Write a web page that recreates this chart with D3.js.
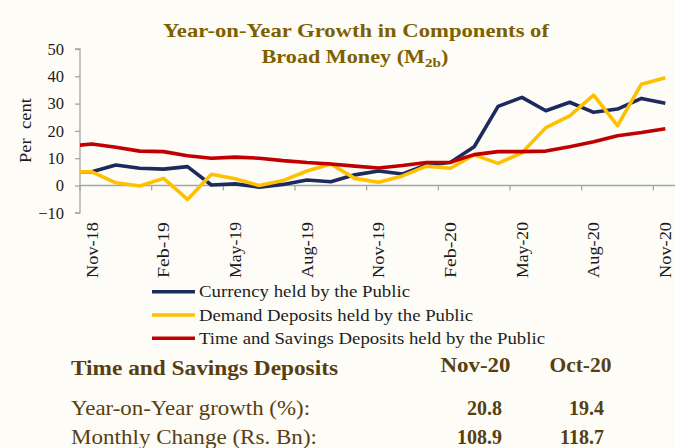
<!DOCTYPE html>
<html>
<head>
<meta charset="utf-8">
<script src="https://cdn.jsdelivr.net/npm/d3@7"></script>
<style>
html,body{margin:0;padding:0;background:#fdfcf7;}
svg{display:block;}
text{font-family:"Liberation Serif","Times New Roman",serif;}
</style>
</head>
<body>
<svg id="chart" width="675" height="448"></svg>
<script>
// ---- data ----
// first month (Oct-18) lies left of the plot area and is clipped (line enters from the axis)
const months = ["Oct-18","Nov-18","Dec-18","Jan-19","Feb-19","Mar-19","Apr-19","May-19","Jun-19","Jul-19","Aug-19","Sep-19","Oct-19","Nov-19","Dec-19","Jan-20","Feb-20","Mar-20","Apr-20","May-20","Jun-20","Jul-20","Aug-20","Sep-20","Oct-20","Nov-20"];
const currency = [5.1,5.0,7.5,6.3,6.0,6.9,0.2,0.6,-0.6,0.4,2.0,1.4,3.9,5.3,4.2,7.5,8.4,14.2,29.0,32.3,27.4,30.5,26.8,28.0,31.9,30.1];
const demand   = [5.0,5.0,1.0,-0.2,2.6,-5.1,4.1,2.5,0.0,1.8,5.3,7.9,2.6,1.2,3.5,7.1,6.3,11.2,8.1,12.0,21.2,25.5,33.1,21.9,37.1,39.5];
const timeSav  = [14.4,15.2,14.0,12.6,12.4,10.9,10.0,10.4,10.0,9.1,8.4,7.9,7.1,6.4,7.3,8.4,8.5,11.3,12.4,12.4,12.6,14.2,16.0,18.2,19.4,20.8];
const xTickLabels = ["Nov-18","Feb-19","May-19","Aug-19","Nov-19","Feb-20","May-20","Aug-20","Nov-20"];
const yTicks = [-10,0,10,20,30,40,50];
const seriesNames = ["Currency held by the Public","Demand Deposits held by the Public","Time and Savings Deposits held by the Public"];
const seriesColors = ["#1c2a5e","#ffc000","#c00000"];
const titleLine1 = "Year-on-Year Growth in Components of";
const titleLine2 = ["Broad Money (M","2b",")"];
const tableHeader = ["Time and Savings Deposits","Nov-20","Oct-20"];
const tableRows = [
  ["Year-on-Year growth (%):","20.8","19.4"],
  ["Monthly Change (Rs. Bn):","108.9","118.7"]
];

const svg = d3.select("#chart");
svg.append("rect").attr("width",675).attr("height",448).attr("fill","#fdfcf7");

function fit(sel, w){ sel.attr("textLength", w).attr("lengthAdjust","spacingAndGlyphs"); return sel; }

// ---- scales ----
const x0 = 80, step = 23.89;
const x = d3.scaleBand().domain(months).range([x0 - step, x0 + 25*step]).padding(0);
const y = d3.scaleLinear().domain([-10,50]).range([212.8,49]);
const cx = m => x(m) + x.bandwidth()/2;

// ---- title ----
const tc = "#7f6000";
fit(svg.append("text").attr("x",356).attr("y",37).attr("text-anchor","middle")
  .attr("font-size",19).attr("font-weight","bold").attr("fill",tc).text(titleLine1), 386);
const t2 = svg.append("text").attr("x",355).attr("y",63).attr("text-anchor","middle")
  .attr("font-size",19).attr("font-weight","bold").attr("fill",tc);
t2.append("tspan").text(titleLine2[0]);
t2.append("tspan").attr("font-size",13).attr("dy",4).text(titleLine2[1]);
t2.append("tspan").attr("dy",-4).text(titleLine2[2]);
{
  const w = t2.node().getBBox().width, k = 187 / w;
  t2.attr("transform",`translate(355,0) scale(${k},1) translate(-355,0)`);
}

// ---- axes ----
const axisColor = "#a6a6a6";
const yAxis = d3.axisLeft(y).tickValues(yTicks).tickSize(5).tickPadding(11).tickFormat(d3.format("d"));
const gy = svg.append("g").attr("transform",`translate(${x0},0)`).call(yAxis);
gy.selectAll("path, line").attr("stroke",axisColor).attr("stroke-width",1.3);
gy.select(".domain").attr("d",`M-5,${y(50)}H0V${y(-10)}H-5`);
gy.selectAll("text").attr("font-family","Liberation Serif").attr("font-size",16.5).attr("fill","#1a1a1a");

// zero line
svg.append("line").attr("x1",x0).attr("x2",675).attr("y1",y(0)).attr("y2",y(0))
  .attr("stroke",axisColor).attr("stroke-width",1.6);
// category ticks every 3 months
svg.selectAll("line.xt").data(xTickLabels).join("line").attr("class","xt")
  .attr("x1",d=>x(d)).attr("x2",d=>x(d)).attr("y1",y(0)).attr("y2",y(0)+5)
  .attr("stroke",axisColor).attr("stroke-width",1.3);
// rotated category labels
svg.selectAll("text.xl").data(xTickLabels).join("text").attr("class","xl")
  .attr("transform",d=>`translate(${cx(d)},222) rotate(-90)`)
  .attr("text-anchor","end").attr("dy","0.34em")
  .attr("font-size",16.5).attr("fill","#1a1a1a").text(d=>d)
  .each(function(){ fit(d3.select(this), 56); });

// y-axis title
fit(svg.append("text").attr("transform","translate(31,130.5) rotate(-90)")
  .attr("text-anchor","middle").attr("font-size",17).attr("fill","#1a1a1a")
  .attr("xml:space","preserve").text("Per  cent"), 65);

// ---- lines ----
svg.append("clipPath").attr("id","plotclip").append("rect")
  .attr("x",x0).attr("y",30).attr("width",600).attr("height",200);
const line = d3.line().x(d=>cx(d.m)).y(d=>y(d.v));
[currency, demand, timeSav].forEach((vals,i)=>{
  svg.append("path").attr("clip-path","url(#plotclip)")
    .attr("d", line(months.map((m,j)=>({m, v: vals[j]}))))
    .attr("fill","none").attr("stroke",seriesColors[i]).attr("stroke-width",3.6)
    .attr("stroke-linejoin","round");
});

// ---- legend ----
const legY = [291.7, 315, 338.3];
const legW = [211, 274, 346];
seriesNames.forEach((n,i)=>{
  svg.append("line").attr("x1",152).attr("x2",195).attr("y1",legY[i]).attr("y2",legY[i])
    .attr("stroke",seriesColors[i]).attr("stroke-width",3.6);
  fit(svg.append("text").attr("x",199).attr("y",legY[i]+5.5).attr("font-size",17.5)
    .attr("fill","#1e1e1e").text(n), legW[i]);
});

// ---- table ----
const brown = "#573f12";
fit(svg.append("text").attr("x",71).attr("y",375).attr("font-size",20).attr("font-weight","bold")
  .attr("fill",brown).text(tableHeader[0]), 267);
fit(svg.append("text").attr("x",440.5).attr("y",371.5).attr("font-size",20).attr("font-weight","bold")
  .attr("fill",brown).text(tableHeader[1]), 70);
fit(svg.append("text").attr("x",549.5).attr("y",371.5).attr("font-size",20).attr("font-weight","bold")
  .attr("fill",brown).text(tableHeader[2]), 62);
const rowY = [414.5, 443.5];
const rowW = [239, 246];
tableRows.forEach((r,i)=>{
  fit(svg.append("text").attr("x",71).attr("y",rowY[i]).attr("font-size",21.5)
    .attr("fill",brown).text(r[0]), rowW[i]);
  svg.append("text").attr("x",502).attr("y",rowY[i]).attr("text-anchor","end").attr("font-size",20)
    .attr("font-weight","bold").attr("fill",brown).text(r[1]);
  svg.append("text").attr("x",604).attr("y",rowY[i]).attr("text-anchor","end").attr("font-size",20)
    .attr("font-weight","bold").attr("fill",brown).text(r[2]);
});
</script>
</body>
</html>
